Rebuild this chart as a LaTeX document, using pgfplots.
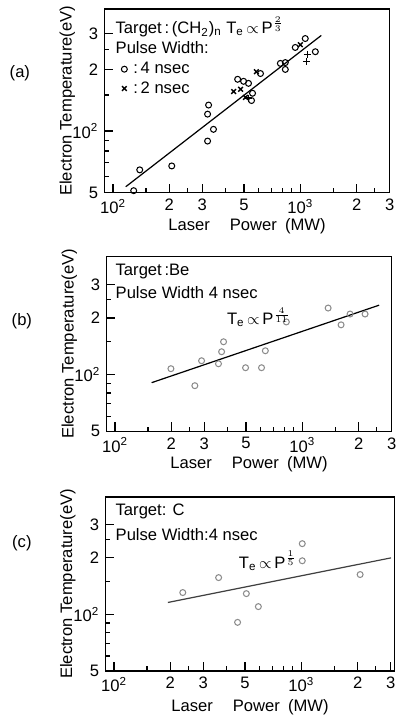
\documentclass[border=0pt]{standalone}
\usepackage{pgfplots}
\pgfplotsset{compat=1.18}
\usepackage{fontspec}
\setmainfont{Liberation Sans}

\newcommand{\fs}{\fontsize{9.5}{11}\selectfont}
\newcommand{\Te}{T\textsubscript{e}}

\begin{document}
\begin{tikzpicture}

% (a) (CH2)n target
\begin{axis}[at={(2.10cm,-3.86cm)}, anchor=south west,
    scale only axis, width=5.74cm, height=3.70cm,
    xmode=log, ymode=log,
    xmin=90, xmax=3000, ymin=50, ymax=395,
    axis line style={line width=0.8pt},
    xtick={100,200,300,500,1000,2000,3000},
    xticklabels={10\textsuperscript{2},2,3,5,10\textsuperscript{3},2,3},
    ytick={50,100,200,300},
    yticklabels={5,10\textsuperscript{2},2,3},
    minor xtick={150,250,400,600,700,800,900,1500,2500},
    minor ytick={60,70,80,90,150,250},
    xtick pos=bottom, ytick pos=left, tick align=inside,
    major tick length=0.18cm, minor tick length=0.09cm,
    tick style={black, line width=0.7pt},
    tick label style={font=\fs},
    xlabel={Laser\hspace{1.2em}Power\hspace{0.5em}(MW)},
    ylabel={Electron Temperature(eV)},
    xlabel style={font=\fs, at={(axis description cs:0.5,-0.18)}, anchor=center},
    ylabel style={font=\fs, at={(axis description cs:-0.13,0.5)}, anchor=center},
    legend style={draw=none, fill=none, at={(rel axis cs:0.04,0.75)},
      anchor=north west, font=\fs, row sep=-1pt},
    legend cell align=left]
\addplot[only marks, mark=o, mark size=1.7pt, mark options={line width=0.6pt}, black]
  coordinates {(139,64.7) (129,51.2) (206,67.6) (324,134) (320,121) (344,102)
    (320,89.4) (463,179) (498,175) (529,171) (556,153) (549,141) (613,191)
    (783,214) (832,216) (832,200) (940,256) (1063,283) (1203,244)};
\addlegendentry{\hspace{0.15em}:\,4 nsec}
\addplot[only marks, mark=x, mark size=1.9pt, mark options={line width=0.8pt}, black]
  coordinates {(441,156) (480,160) (510,146) (583,195) (1000,264)};
\addlegendentry{\hspace{0.15em}:\,2 nsec}
\addplot[only marks, mark=+, mark size=2pt, mark options={line width=0.8pt}, black, forget plot]
  coordinates {(529,145) (1089,237) (1076,219)};
\addplot[line width=0.7pt, black, forget plot] coordinates {(117,53.5) (1294,293)};
\end{axis}

% (b) Be target
\begin{axis}[at={(2.14cm,-8.66cm)}, anchor=south west,
    scale only axis, width=5.74cm, height=3.52cm,
    xmode=log, ymode=log,
    xmin=90, xmax=3000, ymin=50, ymax=425,
    axis line style={line width=0.8pt},
    xtick={100,200,300,500,1000,2000,3000},
    xticklabels={10\textsuperscript{2},2,3,5,10\textsuperscript{3},2,3},
    ytick={50,100,200,300},
    yticklabels={5,10\textsuperscript{2},2,3},
    minor xtick={150,250,400,600,700,800,900,1500,2500},
    minor ytick={60,70,80,90,150,250},
    xtick pos=bottom, ytick pos=left, tick align=inside,
    major tick length=0.18cm, minor tick length=0.09cm,
    tick style={black, line width=0.7pt},
    tick label style={font=\fs},
    xlabel={Laser\hspace{1.2em}Power\hspace{0.5em}(MW)},
    ylabel={Electron Temperature(eV)},
    xlabel style={font=\fs, at={(axis description cs:0.5,-0.19)}, anchor=center},
    ylabel style={font=\fs, at={(axis description cs:-0.13,0.5)}, anchor=center}]
\addplot[only marks, mark=o, mark size=1.7pt, mark options={line width=0.6pt}, black!45]
  coordinates {(199,107.6) (267,87.4) (290,118.6) (357,114.3) (371,132.4)
    (380,149.6) (498,108.9) (606,108.9) (635,134) (822,190.6) (1374,226)
    (1611,184) (1799,210) (2163,210)};
\addplot[line width=0.7pt, black] coordinates {(157,90.7) (2570,234)};
\end{axis}

% (c) C target
\begin{axis}[at={(2.12cm,-13.48cm)}, anchor=south west,
    scale only axis, width=5.82cm, height=3.50cm,
    xmode=log, ymode=log,
    xmin=90, xmax=3150, ymin=50, ymax=422,
    axis line style={line width=0.8pt},
    xtick={100,200,300,500,1000,2000,3000},
    xticklabels={10\textsuperscript{2},2,3,5,10\textsuperscript{3},2,3},
    ytick={50,100,200,300},
    yticklabels={5,10\textsuperscript{2},2,3},
    minor xtick={150,250,400,600,700,800,900,1500,2500},
    minor ytick={60,70,80,90,150,250},
    xtick pos=bottom, ytick pos=left, tick align=inside,
    major tick length=0.18cm, minor tick length=0.09cm,
    tick style={black, line width=0.7pt},
    tick label style={font=\fs},
    xlabel={Laser\hspace{1.2em}Power\hspace{0.5em}(MW)},
    ylabel={Electron Temperature(eV)},
    xlabel style={font=\fs, at={(axis description cs:0.5,-0.21)}, anchor=center},
    ylabel style={font=\fs, at={(axis description cs:-0.13,0.5)}, anchor=center}]
\addplot[only marks, mark=o, mark size=1.7pt, mark options={line width=0.6pt}, black!45]
  coordinates {(233,130.7) (362,157) (509,129) (590,110) (1012,238) (1012,193)
    (457,90.7) (2061,163)};
\addplot[line width=0.7pt, black!75] coordinates {(194,115.7) (3014,200)};
\end{axis}

\begin{scope}[x=0.02cm, y=-0.02cm, every node/.style={font=\fs, inner sep=0pt}]
\node at (20,73) {(a)};
\node at (22,322) {(b)};
\node at (22,545) {(c)};
\node[anchor=west] at (116,26) {Target\,:\,(CH\textsubscript{2})\textsubscript{n}\ \Te$\,\propto\,$P$^{\frac{2}{3}}$};
\node[anchor=west] at (116,47) {Pulse Width:};
\node[anchor=west] at (116,272) {Target\,:Be};
\node[anchor=west] at (116,293) {Pulse Width 4 nsec};
\node[anchor=west] at (228,318) {\Te$\,\propto\,$P$^{\frac{4}{11}}$};
\node[anchor=west] at (116,513) {Target: C};
\node[anchor=west] at (116,537) {Pulse Width:4 nsec};
\node[anchor=west] at (240,563) {\Te$\,\propto\,$P$^{\frac{1}{5}}$};
\end{scope}
\path[use as bounding box] (0,0) rectangle (8cm,-14.42cm);
\end{tikzpicture}
\end{document}
